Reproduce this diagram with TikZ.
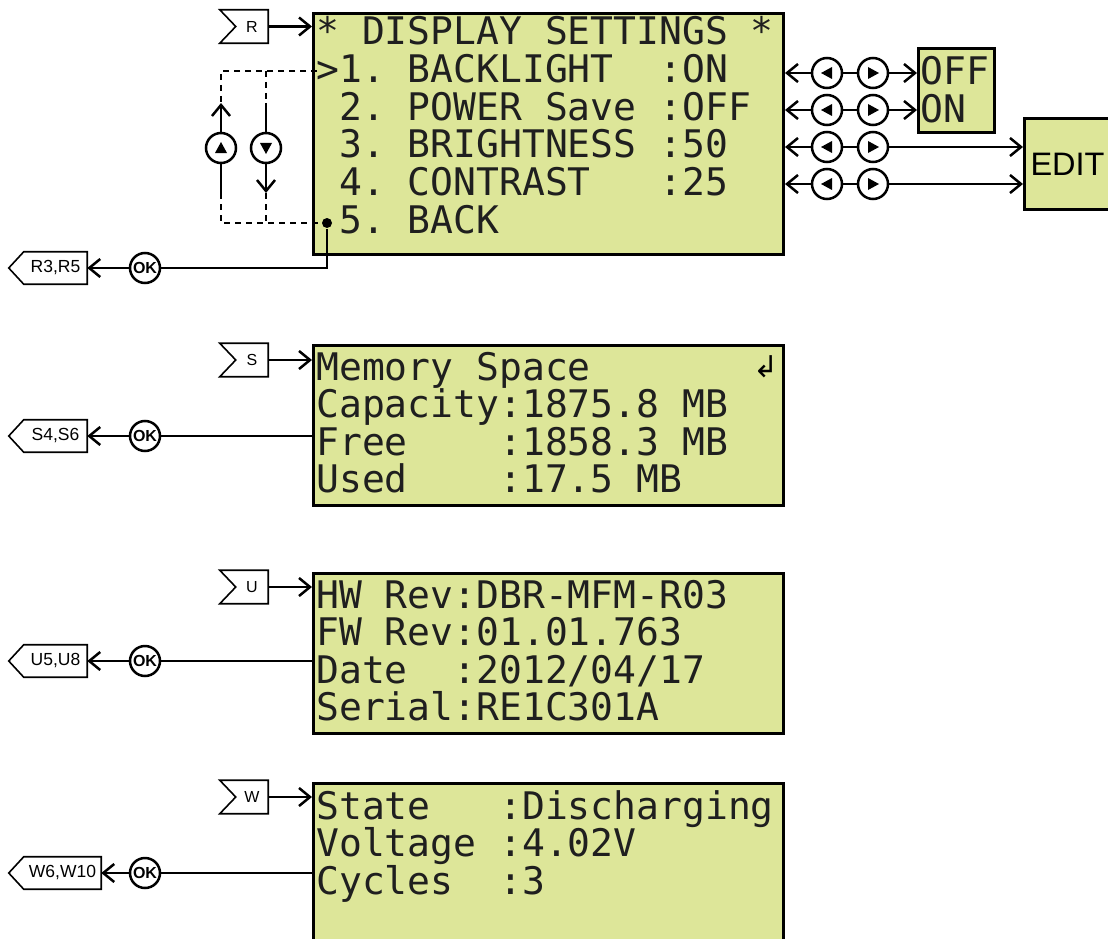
\documentclass[tikz,border=0pt]{standalone}
\usepackage{fontspec}
\setmainfont{Liberation Sans}
\newfontfamily\lcdfont{DejaVu Sans Mono}
\newfontfamily\symfont{DejaVu Sans}
\usetikzlibrary{arrows.meta,calc}
\definecolor{lcdgreen}{RGB}{221,230,153}
\newcommand\blank{\hphantom{0}}
\begin{document}
\begin{tikzpicture}[x=1pt,y=-1pt,
  line width=2.5pt,
  arr/.style={-{Straight Barb[length=11pt,width=18pt]}},
  lcd/.style={draw=black,line width=3pt,fill=lcdgreen,inner sep=0pt,anchor=north west},
  lcdtxt/.style={anchor=base west,inner sep=0pt,text=black!88,font=\lcdfont\fontsize{38}{38}\selectfont},
  btn/.style={circle,draw,line width=2.5pt,fill=white,minimum size=30pt,inner sep=0pt},
  okbtn/.style={btn,font=\bfseries\fontsize{16}{16}\selectfont},
  bl/.style={btn,path picture={\fill[black] ([shift={(-6,0)}]path picture bounding box.center) -- ([shift={(5,-6)}]path picture bounding box.center) -- ([shift={(5,6)}]path picture bounding box.center) -- cycle;}},
  br/.style={btn,path picture={\fill[black] ([shift={(6,0)}]path picture bounding box.center) -- ([shift={(-5,-6)}]path picture bounding box.center) -- ([shift={(-5,6)}]path picture bounding box.center) -- cycle;}},
  bu/.style={btn,path picture={\fill[black] ([shift={(0,-6)}]path picture bounding box.center) -- ([shift={(-6,5)}]path picture bounding box.center) -- ([shift={(6,5)}]path picture bounding box.center) -- cycle;}},
  bd/.style={btn,path picture={\fill[black] ([shift={(0,6)}]path picture bounding box.center) -- ([shift={(-6,-5)}]path picture bounding box.center) -- ([shift={(6,-5)}]path picture bounding box.center) -- cycle;}},
  intag/.style={inner sep=0pt,minimum width=30pt,minimum height=31pt,font=\fontsize{16}{16}\selectfont},
  outtag/.style={inner sep=0pt,minimum height=30pt,font=\fontsize{17.5}{17.5}\selectfont},
  tagline/.style={line width=1.6pt,fill=white},
  dsh/.style={dash pattern=on 6pt off 5pt}
]
\useasboundingbox (0,0) rectangle (1108,939);

% ---------- displays ----------
\node[lcd,minimum width=470pt,minimum height=241pt] (D1) at (312,12) {};
\node[lcd,minimum width=470pt,minimum height=160pt] (D2) at (312,344) {};
\node[lcd,minimum width=470pt,minimum height=160pt] (D3) at (312,572) {};
\node[lcd,minimum width=470pt,minimum height=180pt] (D4) at (312,782) {};

% display 1 text
\node[lcdtxt] (d1a) at (315,45) {*\blank DISPLAY\blank SETTINGS\blank *};
\node[lcdtxt] (d1b) at (315,82.6) {>1.\blank BACKLIGHT\blank\blank :ON};
\node[lcdtxt] (d1c) at (315,120.2) {\blank 2.\blank POWER\blank Save\blank :OFF};
\node[lcdtxt] (d1d) at (315,157.8) {\blank 3.\blank BRIGHTNESS\blank :50};
\node[lcdtxt] (d1e) at (315,195.4) {\blank 4.\blank CONTRAST\blank\blank\blank :25};
\node[lcdtxt] (d1f) at (315,233) {\blank 5.\blank BACK};

% display 2 text
\node[lcdtxt] (d2a) at (315,380) {Memory\blank Space};
\node[inner sep=0pt,font=\symfont\fontsize{30}{30}\selectfont] (ret) at (766,367) {↲};
\node[lcdtxt] (d2b) at (315,417.5) {Capacity:1875.8\blank MB};
\node[lcdtxt] (d2c) at (315,455) {Free\blank\blank\blank\blank :1858.3\blank MB};
\node[lcdtxt] (d2d) at (315,492.5) {Used\blank\blank\blank\blank :17.5\blank MB};

% display 3 text
\node[lcdtxt] (d3a) at (315,608) {HW\blank Rev:DBR-MFM-R03};
\node[lcdtxt] (d3b) at (315,645.5) {FW\blank Rev:01.01.763};
\node[lcdtxt] (d3c) at (315,683) {Date\blank\blank :2012/04/17};
\node[lcdtxt] (d3d) at (315,720.5) {Serial:RE1C301A};

% display 4 text
\node[lcdtxt] (d4a) at (315,819) {State\blank\blank\blank :Discharging};
\node[lcdtxt] (d4b) at (315,856.5) {Voltage\blank :4.02V};
\node[lcdtxt] (d4c) at (315,894) {Cycles\blank\blank :3};

% ---------- right side (display 1) ----------
\node[lcd,minimum width=76pt,minimum height=84pt] (OO) at (917,47) {};
\node[lcdtxt] (off) at (919,85) {OFF};
\node[lcdtxt] (on) at (919,123) {ON};
\node[lcd,minimum height=91pt,inner xsep=6pt,text width=88pt,align=left,
      font=\fontsize{32.5}{32.5}\selectfont] (ED) at (1023,117) {EDIT};

\foreach \i/\y in {1/73,2/110,3/147,4/184}{
  \node[bl] (L\i) at (827,\y) {};
  \node[br] (R\i) at (873,\y) {};
  \draw[arr] (L\i) -- (L\i -| D1.east);
  \draw (L\i) -- (R\i);
}
\draw[arr] (R1) -- (R1 -| OO.west);
\draw[arr] (R2) -- (R2 -| OO.west);
\draw[arr] (R3) -- (R3 -| ED.west);
\draw[arr] (R4) -- (R4 -| ED.west);

% ---------- up / down loop ----------
\node[bu] (up) at (221,148) {};
\node[bd] (down) at (266,148) {};
\coordinate (c1) at (221,71);
\coordinate (c2) at (266,71);
\coordinate (c3) at (317,71);
\coordinate (c4) at (221,223);
\coordinate (c5) at (266,223);
\coordinate (upTop) at (221,103);
\coordinate (upBot) at (221,193);
\coordinate (dnTop) at (266,103);
\coordinate (dnBot) at (266,193);
\node[circle,fill=black,inner sep=0pt,minimum size=10pt] (dot) at (327,223) {};
\draw[dsh] (c3) -- (c1) -- (upTop);
\draw[arr] (up) -- (upTop);
\draw (up) -- (upBot);
\draw[dsh] (upBot) -- (c4) -- (dot);
\draw[dsh] (c2) -- (dnTop);
\draw (dnTop) -- (down);
\draw[arr] (down) -- (dnBot);
\draw[dsh] (dnBot) -- (c5);

% ---------- input tags ----------
\foreach \n/\t/\y in {tR/R/26.5,tS/S/360,tU/U/587,tW/W/797}{
  \node[intag] (\n) at (252,\y) {\t};
  \draw[tagline] ([xshift=-16pt]\n.north west) -- (\n.north east) -- (\n.south east)
     -- ([xshift=-16pt]\n.south west) -- (\n.west) -- cycle;
  \node[intag] at (\n) {\t};
}
\draw[arr] (tR.east) -- (tR.east -| D1.west);
\draw[arr] (tS.east) -- (tS.east -| D2.west);
\draw[arr] (tU.east) -- (tU.east -| D3.west);
\draw[arr] (tW.east) -- (tW.east -| D4.west);

% ---------- OK buttons and output tags ----------
\node[okbtn] (ok1) at (145,268) {OK};
\node[okbtn] (ok2) at (145,436) {OK};
\node[okbtn] (ok3) at (145,661) {OK};
\node[okbtn] (ok4) at (145,873) {OK};

\node[outtag,minimum width=61pt] (oR) at (55.5,268) {R3,R5};
\node[outtag,minimum width=61pt] (oS) at (55.5,436) {S4,S6};
\node[outtag,minimum width=61pt] (oU) at (55.5,661) {U5,U8};
\node[outtag,minimum width=75pt] (oW) at (62.5,873) {W6,W10};
\foreach \n in {oR,oS,oU,oW}{
  \draw[line width=1.6pt] (\n.north east) -- (\n.north west) -- ([xshift=-15pt]\n.west)
     -- (\n.south west) -- (\n.south east) -- cycle;
}

\draw (dot) |- (ok1);
\draw (ok2) -- (ok2 -| D2.west);
\draw (ok3) -- (ok3 -| D3.west);
\draw (ok4) -- (ok4 -| D4.west);
\draw[arr] (ok1) -- (oR.east);
\draw[arr] (ok2) -- (oS.east);
\draw[arr] (ok3) -- (oU.east);
\draw[arr] (ok4) -- (oW.east);
\end{tikzpicture}
\end{document}
